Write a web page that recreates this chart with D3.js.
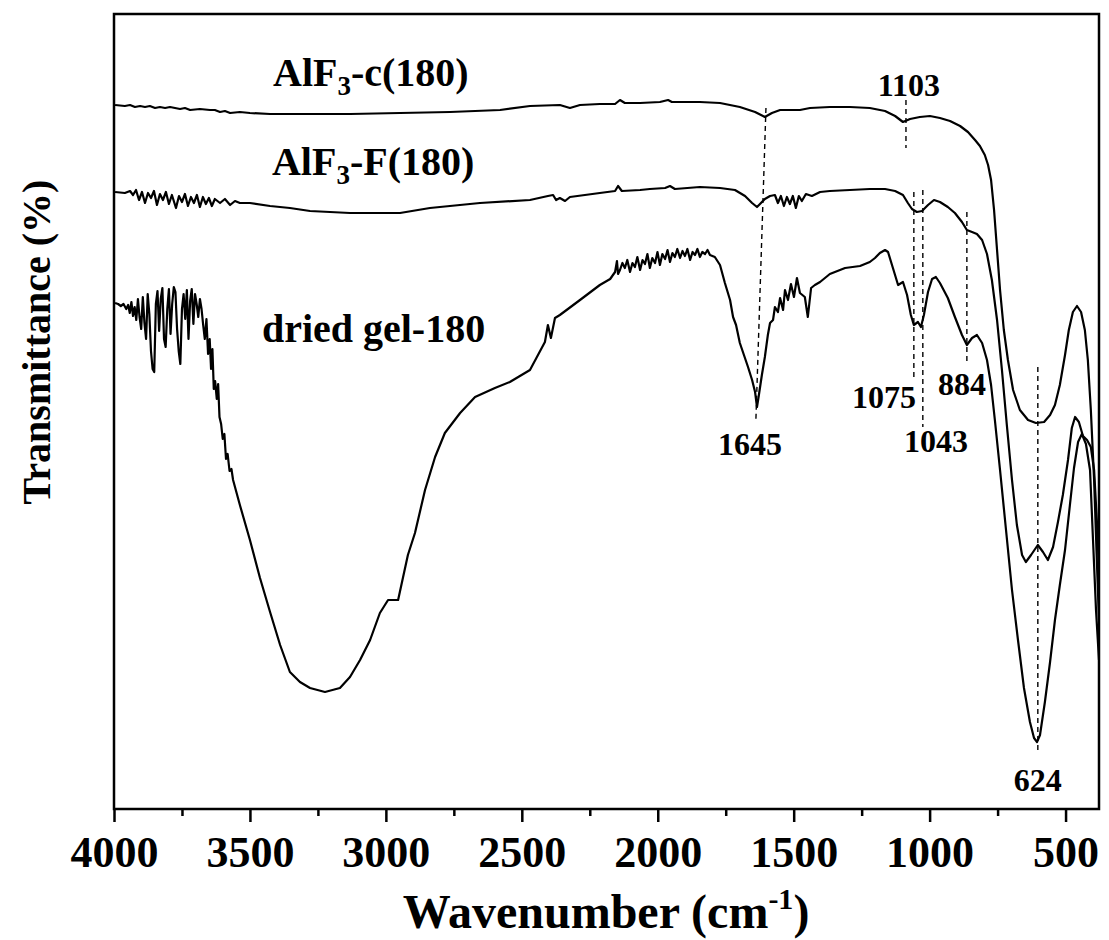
<!DOCTYPE html>
<html>
<head>
<meta charset="utf-8">
<script src="https://cdn.jsdelivr.net/npm/d3@7/dist/d3.min.js"></script>
<style>
  html, body { margin: 0; padding: 0; background: #fff; }
  svg { display: block; }
  text { font-family: "Liberation Serif", "Times New Roman", serif; font-weight: bold; fill: #000; }
</style>
</head>
<body>
<svg id="chart" width="1109" height="940"></svg>
<script>
// ---------------- DATA ----------------
// x: wavenumber (cm-1), y: transmittance (arbitrary offset units)
const xTicksMajor = [4000, 3500, 3000, 2500, 2000, 1500, 1000, 500];
const xTicksMinor = [3750, 3250, 2750, 2250, 1750, 1250, 750];

const alf3c = [
  [3996,704],[3960,703],[3941,704],[3923,702],[3904,703],[3886,702],[3868,703],[3849,701],
  [3831,702],[3812,701],[3794,702],[3757,700],[3739,701],[3720,699],[3684,700],[3647,699],
  [3629,699],[3610,697],[3592,698],[3573,696],[3537,697],[3500,696],[3426,695],[3316,695],
  [3132,695],[2948,696],[2764,697],[2580,699],[2470,703],[2360,704],[2323,701],[2286,704],
  [2213,705],[2157,705],[2139,709],[2121,706],[2065,706],[1992,707],[1962,709],[1948,707],
  [1845,707],[1771,706],[1698,702],[1642,697],[1606,692],[1580,696],[1550,699],[1477,699],
  [1440,701],[1367,702],[1293,702],[1220,701],[1164,698],[1127,693],[1098,687],[1072,690],
  [1036,692],[999,693],[962,691],[925,688],[888,683],[859,677],[833,669],[815,663],
  [797,654],[785,644],[774,629],[763,599],[752,559],[741,519],[727,479],[712,449],
  [693,419],[668,399],[638,389],[609,386],[579,387],[557,394],[539,404],[521,424],
  [502,454],[488,479],[473,497],[458,503],[443,497],[429,479],[418,449],[407,399],
  [395,329],[385,249],[377,189]
];

const alf3f = [
  [3996,617],[3960,616],[3941,618],[3930,614],[3919,619],[3908,609],[3897,617],[3886,606],
  [3875,616],[3864,611],[3853,618],[3842,604],[3831,615],[3820,609],[3809,617],[3798,605],
  [3787,614],[3772,601],[3761,613],[3750,607],[3739,615],[3728,603],[3717,612],[3706,606],
  [3695,614],[3684,602],[3673,612],[3662,605],[3651,611],[3640,603],[3629,610],[3610,606],
  [3592,610],[3573,604],[3555,608],[3537,606],[3500,606],[3426,603],[3353,601],[3279,598],
  [3132,596],[2948,596],[2838,601],[2654,606],[2470,609],[2404,613],[2385,614],[2374,609],
  [2360,611],[2341,608],[2323,612],[2213,616],[2157,618],[2146,623],[2132,618],[2065,619],
  [2029,620],[1973,621],[1955,623],[1937,620],[1845,622],[1771,621],[1716,619],[1679,613],
  [1653,606],[1635,602],[1624,605],[1606,610],[1587,613],[1569,614],[1558,606],[1547,613],
  [1536,603],[1525,612],[1514,605],[1503,613],[1492,601],[1481,613],[1470,608],[1455,615],
  [1433,613],[1403,617],[1367,618],[1293,619],[1220,620],[1164,620],[1127,618],[1098,614],
  [1080,606],[1065,600],[1047,597],[1028,598],[1006,604],[984,609],[962,607],[933,602],
  [907,596],[881,587],[863,579],[844,577],[826,575],[807,569],[789,555],[771,529],
  [752,489],[734,439],[716,384],[697,329],[679,284],[660,254],[646,247],[627,254],
  [602,264],[583,257],[565,249],[546,262],[528,287],[510,314],[491,349],[477,381],
  [465,392],[451,387],[436,373],[421,369],[407,362],[395,339],[385,289],[377,239]
];

const driedGel = [
  [3996,506],[3985,505],[3975,503],[3965,505],[3955,500],[3948,504],[3942,496],[3936,507],
  [3930,493],[3924,502],[3918,489],[3912,510],[3906,492],[3900,480],[3894,512],[3888,486],
  [3882,470],[3876,515],[3870,495],[3864,458],[3858,440],[3852,437],[3846,505],[3840,518],
  [3834,478],[3828,510],[3822,521],[3816,470],[3810,462],[3804,500],[3798,520],[3792,475],
  [3786,505],[3780,522],[3774,517],[3768,480],[3762,458],[3756,445],[3750,500],[3744,515],
  [3738,490],[3732,519],[3726,470],[3720,508],[3714,520],[3708,485],[3702,515],[3696,505],
  [3690,492],[3684,510],[3678,500],[3672,484],[3666,470],[3660,490],[3654,455],[3648,470],
  [3643,440],[3638,460],[3633,420],[3628,428],[3622,410],[3617,425],[3612,392],[3606,385],
  [3600,370],[3594,375],[3588,350],[3582,355],[3575,338],[3568,340],[3562,329],
  [3537,304],[3500,269],[3463,231],[3426,197],
  [3389,164],[3353,137],[3316,127],[3279,121],[3224,117],[3169,121],[3132,132],[3095,149],
  [3058,169],[3022,196],[2992,209],[2955,209],[2919,254],[2893,276],[2856,319],[2819,352],
  [2783,376],[2727,396],[2672,412],[2599,421],[2544,427],[2470,439],[2415,467],[2404,484],
  [2393,471],[2378,491],[2360,494],[2286,509],[2213,524],[2175,530],[2157,537],[2150,548],
  [2146,535],[2139,539],[2130,546],[2121,541],[2112,549],[2102,537],[2093,546],[2084,542],
  [2075,552],[2065,539],[2056,549],[2047,545],[2038,555],[2029,541],[2020,551],[2010,546],
  [2001,557],[1992,544],[1983,555],[1973,550],[1964,559],[1955,547],[1946,556],[1937,552],
  [1928,560],[1918,551],[1909,558],[1900,553],[1891,560],[1881,549],[1872,557],[1863,554],
  [1854,560],[1845,552],[1836,557],[1826,555],[1817,559],[1808,554],[1790,552],[1771,544],
  [1753,526],[1734,509],[1723,492],[1712,484],
  [1698,466],[1683,454],[1668,442],[1653,429],[1642,417],[1635,402],[1628,414],[1617,434],
  [1606,452],[1595,474],[1587,486],[1576,489],[1569,502],[1558,497],[1550,511],[1539,499],
  [1532,519],[1521,509],[1510,525],[1499,512],[1488,531],[1477,516],[1459,512],[1448,492],
  [1436,521],[1422,524],[1403,527],[1367,535],[1311,541],[1256,543],[1220,547],[1201,551],
  [1183,556],[1164,559],[1153,557],[1135,541],[1116,524],[1098,527],[1083,514],[1069,494],
  [1058,484],[1043,487],[1032,482],[1021,494],[1006,517],[991,530],[977,532],[962,526],
  [933,511],[907,492],[881,474],[863,464],[844,471],[826,474],[807,466],[789,449],
  [774,424],[760,389],[741,339],[719,279],[697,219],[675,169],[653,121],[631,87],
  [616,71],[605,67],[594,74],[576,107],[557,147],[539,189],[521,224],[502,259],
  [484,304],[469,341],[454,367],[440,375],[425,365],[410,339],[399,269],[388,199],[377,149]
];

// dashed marker lines: [w1, v1, w2, v2]
const markerLines = [
  [1087, 709, 1087, 661],
  [1602, 701, 1639, 389],
  [1058, 617, 1058, 432],
  [1025, 619, 1025, 382],
  [863, 597, 863, 444],
  [602, 442, 602, 56]
];
// peak labels: [text, w, v]
const peakLabels = [
  ["1103", 1076, 713],
  ["1645", 1661, 354],
  ["1075", 1168, 401],
  ["884", 881, 414],
  ["1043", 977, 357],
  ["624", 602, 18]
];
// series labels: [main, sub, rest, w, v]
const seriesLabels = [
  ["AlF", "3", "-c(180)", 3415, 723],
  ["AlF", "3", "-F(180)", 3419, 634],
  ["dried gel-180", "", "", 3456, 467]
];

// ---------------- DRAW ----------------
const svg = d3.select("#chart");
const L = 114, R = 1099, T = 14, B = 809;

const x = d3.scaleLinear().domain([4000, 377]).range([L, R]);
const y = d3.scaleLinear().domain([0, 795]).range([B, T]);

svg.append("defs").append("clipPath").attr("id", "clip")
  .append("rect").attr("x", L).attr("y", T).attr("width", R - L).attr("height", B - T);

const line = d3.line().x(d => x(d[0])).y(d => y(d[1]));

const plot = svg.append("g").attr("clip-path", "url(#clip)");
[alf3c, alf3f, driedGel].forEach(s => {
  plot.append("path").datum(s)
    .attr("d", line)
    .attr("fill", "none")
    .attr("stroke", "#000")
    .attr("stroke-width", 2.2)
    .attr("stroke-linejoin", "round");
});

// dashed markers
plot.selectAll("line.mark").data(markerLines).enter().append("line")
  .attr("x1", d => x(d[0])).attr("y1", d => y(d[1]))
  .attr("x2", d => x(d[2])).attr("y2", d => y(d[3]))
  .attr("stroke", "#000").attr("stroke-width", 1.4)
  .attr("stroke-dasharray", "5,4");

// peak labels
svg.selectAll("text.peak").data(peakLabels).enter().append("text")
  .attr("x", d => x(d[1])).attr("y", d => y(d[2]))
  .attr("text-anchor", "middle")
  .style("font-size", "32px")
  .text(d => d[0]);

// series labels
seriesLabels.forEach(d => {
  const t = svg.append("text").attr("x", x(d[3])).attr("y", y(d[4])).style("font-size", "40px");
  t.append("tspan").text(d[0]);
  if (d[1]) {
    t.append("tspan").attr("dy", 9).style("font-size", "27px").text(d[1]);
    t.append("tspan").attr("dy", -9).text(d[2]);
  }
});

// frame
svg.append("rect").attr("x", L).attr("y", T).attr("width", R - L).attr("height", B - T)
  .attr("fill", "none").attr("stroke", "#000").attr("stroke-width", 2.5);

// x axis
const axis = svg.append("g").attr("transform", `translate(0,${B})`)
  .call(d3.axisBottom(x).tickValues(xTicksMajor).tickSize(13).tickPadding(14).tickFormat(d3.format("d")));
axis.select(".domain").remove();
axis.selectAll(".tick line").attr("stroke-width", 2.5);
axis.selectAll(".tick text").style("font-size", "44px").style("font-family", "'Liberation Serif', serif").style("font-weight", "bold");

const minor = svg.append("g").attr("transform", `translate(0,${B})`)
  .call(d3.axisBottom(x).tickValues(xTicksMinor).tickSize(7).tickFormat(""));
minor.select(".domain").remove();
minor.selectAll(".tick line").attr("stroke-width", 2.5);

// axis titles
const xt = svg.append("text").attr("x", 606).attr("y", 928).attr("text-anchor", "middle").style("font-size", "48px");
xt.append("tspan").text("Wavenumber (cm");
xt.append("tspan").attr("dy", -19).style("font-size", "30px").text("-1");
xt.append("tspan").attr("dy", 19).text(")");

svg.append("text")
  .attr("transform", "translate(50,342) rotate(-90)")
  .attr("text-anchor", "middle")
  .style("font-size", "40px")
  .text("Transmittance (%)");
</script>
</body>
</html>
